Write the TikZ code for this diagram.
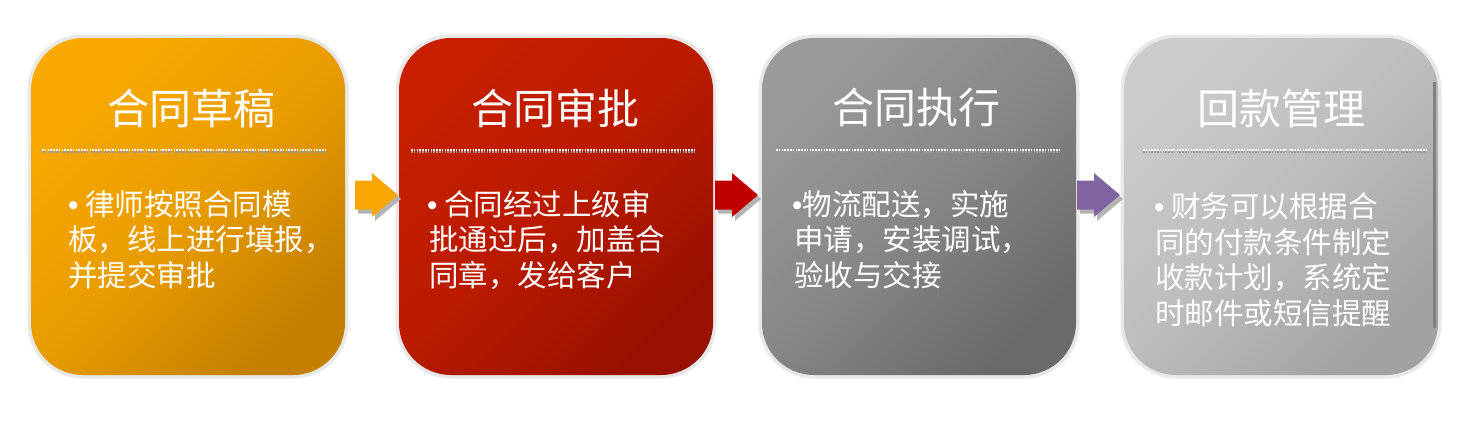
\documentclass[tikz,border=0pt]{standalone}
\usepackage{fontspec}
\newfontfamily\cjk{Noto Sans CJK SC}
\newfontfamily\lat{Liberation Sans}
\newcommand{\bul}{{\lat •}}
\definecolor{ringgray}{HTML}{E8E8E8}
\definecolor{c1a}{HTML}{F9A900}\definecolor{c1b}{HTML}{C47F00}
\definecolor{c2a}{HTML}{C71F00}\definecolor{c2b}{HTML}{981000}
\definecolor{c3a}{HTML}{9A9A9A}\definecolor{c3b}{HTML}{6A6A6A}
\definecolor{c4a}{HTML}{CBCBCB}\definecolor{c4b}{HTML}{A2A2A2}
\definecolor{arrOr}{HTML}{F9A600}
\definecolor{arrRed}{HTML}{C00000}
\definecolor{arrPur}{HTML}{8064A2}
\definecolor{arrShadow}{HTML}{B4B4B4}
\begin{document}
\begin{tikzpicture}[x=1pt,y=-1pt,
  ring/.style={fill=ringgray, draw=none, rounded corners=55pt, minimum width=321pt, minimum height=344pt, inner sep=0pt, outer sep=0pt},
  card/.style={draw=none, rounded corners=52pt, minimum width=314pt, minimum height=337pt, inner sep=0pt, outer sep=0pt},
  title/.style={font=\cjk\fontsize{42}{50}\selectfont, text=white, inner sep=0pt, anchor=center},
  body/.style={font=\cjk\fontsize{29.5}{35.6}\selectfont, text=white, inner sep=0pt, anchor=west},
  dotline/.style={white, line width=2.4pt, dash pattern=on 1.5pt off 1.3pt},
  dotshadow/.style={black!40, line width=2.4pt, dash pattern=on 1.5pt off 1.3pt}
]
\useasboundingbox[fill=white] (0,0) rectangle (1470,426);

% rings
\node[ring] (r1) at (188,206.5) {};
\node[ring] (r2) at (556,206.5) {};
\node[ring] (r3) at (919,206.5) {};
\node[ring] (r4) at (1281,206.5) {};

% cards
\node[card, top color=c1a, bottom color=c1b, middle color=c1a!70!c1b, shading angle=45] (b1) at (188,206.5) {};
\node[card, top color=c2a, bottom color=c2b, middle color=c2a!70!c2b, shading angle=45] (b2) at (556,206.5) {};
\node[card, top color=c3a, bottom color=c3b, middle color=c3a!60!c3b, shading angle=45] (b3) at (919,206.5) {};
\node[card, top color=c4a, bottom color=c4b, middle color=c4a!65!c4b, shading angle=45] (b4) at (1281,206.5) {};

% dark edge on last card
\draw[black!50, line width=3pt] (1434.5,82) -- (1434.5,328);

% titles
\node[title] (t1) at (191,108) {合同草稿};
\node[title] (t2) at (555,108) {合同审批};
\node[title] (t3) at (916,108) {合同执行};
\node[title] (t4) at (1281,108) {回款管理};

% dotted separators
\draw[dotshadow] (42,151.5) -- (326,151.5);
\draw[dotline] (42,150) -- (326,150);
\draw[dotshadow] (411,151.5) -- (694,151.5);
\draw[dotline] (411,150) -- (694,150);
\draw[dotshadow] (776,151.5) -- (1060,151.5);
\draw[dotline] (776,150) -- (1060,150);
\draw[dotshadow] (1143,151.5) -- (1427,151.5);
\draw[dotline] (1143,150) -- (1427,150);

% body texts
\node[body] (p1a) at (68,204.5) {\bul{} 律师按照合同模};
\node[body] (p1b) at (68,240) {板，线上进行填报，};
\node[body] (p1c) at (68,275.5) {并提交审批};

\node[body] (p2a) at (427,204.5) {\bul{} 合同经过上级审};
\node[body] (p2b) at (429,240) {批通过后，加盖合};
\node[body] (p2c) at (429,275.5) {同章，发给客户};

\node[body] (p3a) at (792,204.5) {\bul{}物流配送，实施};
\node[body] (p3b) at (794,240) {申请，安装调试，};
\node[body] (p3c) at (794,275.5) {验收与交接};

\node[body] (p4a) at (1154,206.5) {\bul{} 财务可以根据合};
\node[body] (p4b) at (1155,242) {同的付款条件制定};
\node[body] (p4c) at (1155,277.5) {收款计划，系统定};
\node[body] (p4d) at (1155,313) {时邮件或短信提醒};

% block arrows
\foreach \x/\c in {355/arrOr, 715/arrRed, 1077/arrPur} {
  \fill[arrShadow, shift={(\x+3,199)}] (0,-14.5) -- (17,-14.5) -- (17,-22) -- (43,0) -- (17,22) -- (17,14.5) -- (0,14.5) -- cycle;
  \fill[\c, shift={(\x,195)}] (0,-14.5) -- (17,-14.5) -- (17,-22) -- (43,0) -- (17,22) -- (17,14.5) -- (0,14.5) -- cycle;
}
\end{tikzpicture}
\end{document}
